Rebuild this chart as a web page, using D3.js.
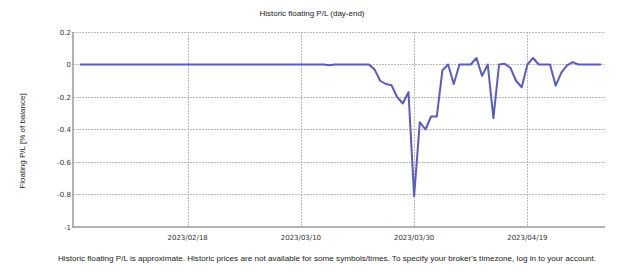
<!DOCTYPE html>
<html><head><meta charset="utf-8">
<script src="https://cdn.jsdelivr.net/npm/d3@7"></script>
<style>body{margin:0;background:#fff;}svg{display:block;}</style>
</head><body>
<script>
const title = "Historic floating P/L (day-end)";
const yLabel = "Floating P/L [% of balance]";
const footer = "Historic floating P/L is approximate. Historic prices are not available for some symbols/times. To specify your broker's timezone, log in to your account.";
const startDate = "2023-01-30";
const endDate = "2023-05-02";
// daily values (% of balance), 2023-01-30 .. 2023-05-02
const values = [
  0,0,                                           // Jan 30-31
  0,0,0,0,0,0,0,0,0,0,0,0,0,0,0,0,0,0,0,0,0,0,0,0,0,0,0,0, // Feb
  0,0,0,0,0,0,0,0,0,0,0,0,0,0,                  // Mar 1-14
  -0.005,0,0,0,0,0,0,0,                          // Mar 15-22
  -0.03,-0.10,-0.12,-0.128,-0.20,-0.24,-0.17,-0.81,-0.355, // Mar 23-31
  -0.40,-0.32,-0.32,-0.035,0,-0.12,0,0,0,0.04,   // Apr 1-10
  -0.07,0,-0.33,0,0.004,-0.02,-0.10,-0.14,0,0.04, // Apr 11-20
  0,0,0,-0.13,-0.05,-0.005,0.015,0,0,0,          // Apr 21-30
  0,0                                            // May 1-2
];
const yTicks = [0.2, 0, -0.2, -0.4, -0.6, -0.8, -1];
const xTicks = ["2023-02-18","2023-03-10","2023-03-30","2023-04-19"];

const parse = d3.utcParse("%Y-%m-%d");
const dates = d3.utcDay.range(parse(startDate), d3.utcDay.offset(parse(endDate), 1));
const data = dates.map((d, i) => ({date: d, v: values[i]}));

const W = 625, H = 272;
const L = 73, R = 605, T = 32, B = 227;
const svg = d3.select("body").append("svg").attr("width", W).attr("height", H);

const x = d3.scaleUtc()
  .domain([d3.utcHour.offset(parse(startDate), -30), d3.utcHour.offset(parse(endDate), 17)])
  .range([L, R]);
const y = d3.scaleLinear().domain([-1, 0.2]).range([B, T]);

// grid
svg.append("g").selectAll("line").data(yTicks.filter(t => t !== -1)).join("line")
  .attr("x1", L).attr("x2", R).attr("y1", d => y(d)).attr("y2", d => y(d))
  .attr("stroke", "#bbb").attr("stroke-width", 1).attr("stroke-dasharray", "2,1")
  .attr("shape-rendering", "crispEdges");
svg.append("g").selectAll("line").data(xTicks).join("line")
  .attr("x1", d => Math.round(x(parse(d))) + 0.5).attr("x2", d => Math.round(x(parse(d))) + 0.5)
  .attr("y1", T).attr("y2", B)
  .attr("stroke", "#bbb").attr("stroke-width", 1).attr("stroke-dasharray", "2,1");

// axes lines
svg.append("line").attr("x1", L).attr("x2", L).attr("y1", T).attr("y2", B + 1)
  .attr("stroke", "#999").attr("stroke-width", 1.5);
svg.append("line").attr("x1", L).attr("x2", R).attr("y1", B).attr("y2", B)
  .attr("stroke", "#999").attr("stroke-width", 1.5);

// y tick labels
svg.append("g").selectAll("text").data(yTicks).join("text")
  .attr("x", L - 2).attr("y", d => y(d) + 2.5)
  .attr("text-anchor", "end")
  .attr("font-family", "DejaVu Sans").attr("font-size", 7).attr("fill", "#333")
  .text(d => d3.format("")(d).replace("−", "-"));

// x tick labels
const fmt = d3.utcFormat("%Y/%m/%d");
svg.append("g").selectAll("text").data(xTicks).join("text")
  .attr("x", d => x(parse(d))).attr("y", 239.5)
  .attr("text-anchor", "middle")
  .attr("font-family", "DejaVu Sans").attr("font-size", 7).attr("fill", "#333")
  .text(d => fmt(parse(d)));

// line
const line = d3.line().x(d => x(d.date)).y(d => y(d.v));
svg.append("path").datum(data)
  .attr("d", line).attr("fill", "none")
  .attr("stroke", "#5b5bc0").attr("stroke-width", 2).attr("stroke-linejoin", "round");

// title
svg.append("text").attr("x", 312).attr("y", 16).attr("text-anchor", "middle")
  .attr("font-family", "Liberation Sans").attr("font-size", 8).attr("fill", "#222")
  .text(title);

// y label
svg.append("text").attr("transform", "translate(25,141) rotate(-90)")
  .attr("text-anchor", "middle")
  .attr("font-family", "Liberation Sans").attr("font-size", 8).attr("fill", "#222")
  .text(yLabel);

// footer
svg.append("text").attr("x", 58).attr("y", 261)
  .attr("font-family", "Liberation Sans").attr("font-size", 8).attr("fill", "#222")
  .attr("textLength", 538).attr("lengthAdjust", "spacingAndGlyphs")
  .text(footer);
</script>
</body></html>
